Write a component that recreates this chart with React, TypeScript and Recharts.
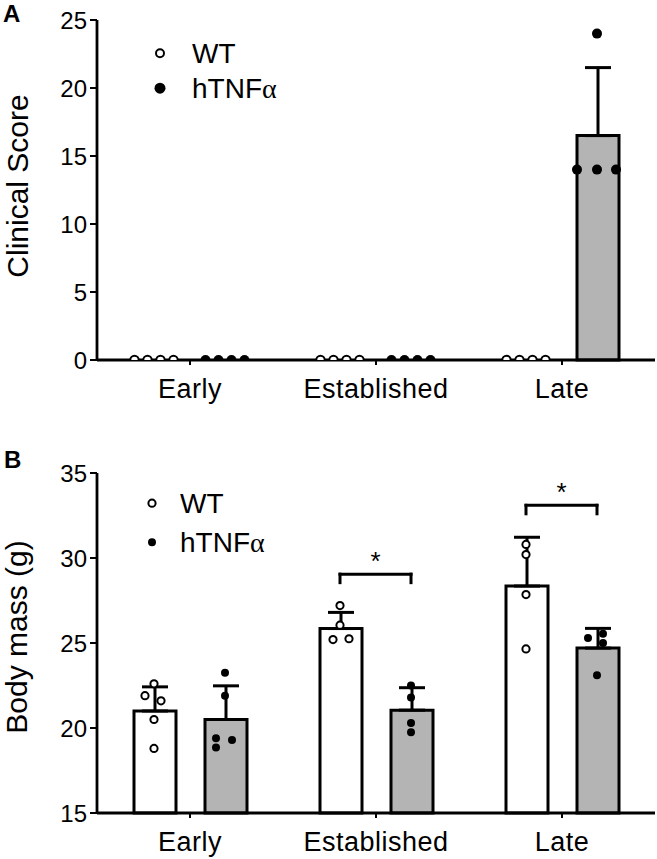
import React from 'react';
import {
  ComposedChart,
  Bar,
  XAxis,
  YAxis,
  Scatter,
  ErrorBar,
  ReferenceLine,
  ReferenceDot,
  Legend,
  Label,
} from 'recharts';

// ---------- data ----------
const categories = ['Early', 'Established', 'Late'];
const seriesNames = ['WT', 'hTNFα'];

// Panel A: clinical score
const scoreTicks = [0, 5, 10, 15, 20, 25];
const scoreWT = [0, 0, 0];
const scoreWTsd = [0, 0, 0];
const scoreTNF = [0, 0, 16.5];
const scoreTNFsd = [0, 0, 5.0];
const scoreWTpoints = [
  [0, 0, 0, 0],
  [0, 0, 0, 0],
  [0, 0, 0, 0],
];
const scoreTNFpoints = [
  [0, 0, 0, 0],
  [0, 0, 0, 0],
  [24, 14, 14, 14],
];
const scoreWTjitter = [
  [-19.5, -6.5, 6.5, 19.5],
  [-19.5, -6.5, 6.5, 19.5],
  [-19.5, -6.5, 6.5, 19.5],
];
const scoreTNFjitter = [
  [-19.5, -6.5, 6.5, 19.5],
  [-19.5, -6.5, 6.5, 19.5],
  [0, -20, 0, 19],
];

// Panel B: body mass
const massTicks = [15, 20, 25, 30, 35];
const massWT = [21.0, 25.85, 28.35];
const massWTsd = [1.42, 0.95, 2.87];
const massTNF = [20.5, 21.05, 24.7];
const massTNFsd = [1.98, 1.32, 1.16];
const massWTpoints = [
  [22.6, 21.9, 21.6, 20.5, 18.8],
  [27.2, 26.05, 25.2, 25.25],
  [30.8, 30.2, 27.85, 24.65],
];
const massTNFpoints = [
  [23.25, 21.9, 19.4, 19.3, 18.85],
  [22.5, 21.8, 20.3, 19.75],
  [25.3, 25.55, 25.0, 23.1],
];
const massWTjitter = [
  [0, -9, 7, 0, 0],
  [0, 0, -7, 9],
  [0, 0, 0, 0],
];
const massTNFjitter = [
  [0, 0, -9, 7, -9],
  [0, 0, 0, 0],
  [-9, 6, 6, 0],
];
const sigGroups = [1, 2];
const sigBracketY = [29.05, 33.1];
const sigLabel = '*';

// ---------- layout ----------
const FONT = '"Liberation Sans", Arial, Helvetica, sans-serif';
const W = 657;
const PLOT_LEFT = 97;
const PLOT_RIGHT = 655;
const PLOT_W = PLOT_RIGHT - PLOT_LEFT;
const BAND = PLOT_W / categories.length;
const BAR = 42;
const GAP = 29;
const OUTER = Math.floor((BAND - 2 * BAR - GAP) / 2);
const WT_OFF = (OUTER + BAR / 2) / BAND;
const TNF_OFF = (OUTER + BAR + GAP + BAR / 2) / BAND;
const GRAY = '#b4b4b4';

const buildRows = (wt: number[], wtsd: number[], tnf: number[], tnfsd: number[]) =>
  categories.map((c, i) => ({
    cat: c,
    wt: wt[i],
    wtErr: [0, wtsd[i]],
    tnf: tnf[i],
    tnfErr: [0, tnfsd[i]],
  }));

const buildPoints = (pts: number[][], jit: number[][], off: number) =>
  pts.flatMap((vals, i) => vals.map((v, j) => ({ x: i + off + jit[i][j] / BAND, y: v })));

const openCircle = (r: number) => (p: any) =>
  <circle cx={p.cx} cy={p.cy} r={r} fill="#fff" stroke="#000" strokeWidth={2} />;
const filledCircle = (r: number) => (p: any) =>
  <circle cx={p.cx} cy={p.cy} r={r} fill="#000" stroke="none" />;

const renderName = (name: string) => {
  const idx = name.indexOf('α');
  if (idx < 0) return name;
  return (
    <>
      {name.slice(0, idx)}
      <span style={{ fontFamily: '"Liberation Serif", "DejaVu Serif", serif' }}>α</span>
      {name.slice(idx + 1)}
    </>
  );
};

const makeLegend = (lineH: number, base: number, rOpen: number, rFill: number, textX: number) => () => (
  <div style={{ fontFamily: FONT, fontSize: 28, color: '#000' }}>
    {seriesNames.map((n, i) => (
      <div key={n} style={{ position: 'relative', height: lineH, lineHeight: `${lineH}px`, paddingLeft: textX, whiteSpace: 'nowrap' }}>
        <svg width={24} height={lineH} style={{ position: 'absolute', left: 0, top: 0 }}>
          {i === 0 ? (
            <circle cx={10} cy={base} r={rOpen} fill="#fff" stroke="#000" strokeWidth={2} />
          ) : (
            <circle cx={10} cy={base} r={rFill} fill="#000" />
          )}
        </svg>
        {renderName(n)}
      </div>
    ))}
  </div>
);

const yLabel = (text: string, bx: number, dy: number) => (props: any) => {
  const vb = props.viewBox || { x: 0, y: 0, width: 0, height: 0 };
  const cy = vb.y + vb.height / 2 + dy;
  return (
    <text
      x={bx}
      y={cy}
      transform={`rotate(-90 ${bx} ${cy})`}
      textAnchor="middle"
      fontSize={30}
      fontFamily={FONT}
      fill="#000"
    >
      {text}
    </text>
  );
};

const xTick = (p: any) => (
  <text x={p.x} y={p.y} dy="0.71em" textAnchor="middle" fontSize={27} fontFamily={FONT} fill="#000" letterSpacing={0.5}>
    {p.payload.value}
  </text>
);

const yTickStyle = { fontSize: 24, fontFamily: FONT, fill: '#000' };

const starShape = (p: any) => (
  <text x={p.cx} y={p.cy} textAnchor="middle" fontSize={26} fontFamily={FONT} fill="#000">
    {sigLabel}
  </text>
);

const PanelA = () => {
  const rows = buildRows(scoreWT, scoreWTsd, scoreTNF, scoreTNFsd);
  const wtPts = buildPoints(scoreWTpoints, scoreWTjitter, WT_OFF);
  const tnfPts = buildPoints(scoreTNFpoints, scoreTNFjitter, TNF_OFF);
  return (
    <ComposedChart
      width={W}
      height={420}
      data={rows}
      margin={{ top: 20, right: W - PLOT_RIGHT, left: 0, bottom: 10 }}
      barSize={BAR}
      barGap={GAP}
    >
      <XAxis
        dataKey="cat"
        height={50}
        axisLine={{ stroke: '#000', strokeWidth: 2.8 }}
        tickLine={{ stroke: '#000', strokeWidth: 2 }}
        tickSize={5}
        tickMargin={14}
        tick={xTick}
        interval={0}
      />
      <XAxis xAxisId="n" type="number" dataKey="x" domain={[0, 3]} hide allowDataOverflow />
      <YAxis
        width={PLOT_LEFT}
        domain={[0, 25]}
        ticks={scoreTicks}
        interval={0}
        axisLine={{ stroke: '#000', strokeWidth: 2.8 }}
        tickLine={{ stroke: '#000', strokeWidth: 2 }}
        tickSize={7}
        tickMargin={3}
        tick={yTickStyle}
      >
        <Label content={yLabel('Clinical Score', 28, -4)} />
      </YAxis>
      <YAxis yAxisId="s" dataKey="y" domain={[0, 25]} hide allowDataOverflow />
      <Bar dataKey="wt" fill="#fff" stroke="#000" strokeWidth={3} isAnimationActive={false}>
        <ErrorBar dataKey="wtErr" width={13} strokeWidth={3} stroke="#000" direction="y" />
      </Bar>
      <Bar dataKey="tnf" fill={GRAY} stroke="#000" strokeWidth={3} isAnimationActive={false}>
        <ErrorBar dataKey="tnfErr" width={13} strokeWidth={3} stroke="#000" direction="y" />
      </Bar>
      <Scatter data={wtPts} xAxisId="n" yAxisId="s" dataKey="y" shape={openCircle(4.2)} isAnimationActive={false} />
      <Scatter data={tnfPts} xAxisId="n" yAxisId="s" dataKey="y" shape={filledCircle(5)} isAnimationActive={false} />
      <Legend
        layout="vertical"
        align="center"
        verticalAlign="middle"
        content={makeLegend(35, 17.2, 4, 5.5, 42)}
        wrapperStyle={{ position: 'absolute', top: 36, left: 150, width: 'auto' }}
      />
    </ComposedChart>
  );
};

const PanelB = () => {
  const rows = buildRows(massWT, massWTsd, massTNF, massTNFsd);
  const wtPts = buildPoints(massWTpoints, massWTjitter, WT_OFF);
  const tnfPts = buildPoints(massTNFpoints, massTNFjitter, TNF_OFF);
  return (
    <ComposedChart
      width={W}
      height={429}
      data={rows}
      margin={{ top: 43, right: W - PLOT_RIGHT, left: 0, bottom: 6 }}
      barSize={BAR}
      barGap={GAP}
    >
      <XAxis
        dataKey="cat"
        height={40}
        axisLine={{ stroke: '#000', strokeWidth: 2.8 }}
        tickLine={{ stroke: '#000', strokeWidth: 2 }}
        tickSize={5}
        tickMargin={14}
        tick={xTick}
        interval={0}
      />
      <XAxis xAxisId="n" type="number" dataKey="x" domain={[0, 3]} hide allowDataOverflow />
      <YAxis
        width={PLOT_LEFT}
        domain={[15, 35]}
        ticks={massTicks}
        interval={0}
        axisLine={{ stroke: '#000', strokeWidth: 2.8 }}
        tickLine={{ stroke: '#000', strokeWidth: 2 }}
        tickSize={7}
        tickMargin={3}
        tick={yTickStyle}
      >
        <Label content={yLabel('Body mass (g)', 27, -6)} />
      </YAxis>
      <YAxis yAxisId="s" dataKey="y" domain={[15, 35]} hide allowDataOverflow />
      <Bar dataKey="wt" fill="#fff" stroke="#000" strokeWidth={3} isAnimationActive={false}>
        <ErrorBar dataKey="wtErr" width={13} strokeWidth={3} stroke="#000" direction="y" />
      </Bar>
      <Bar dataKey="tnf" fill={GRAY} stroke="#000" strokeWidth={3} isAnimationActive={false}>
        <ErrorBar dataKey="tnfErr" width={13} strokeWidth={3} stroke="#000" direction="y" />
      </Bar>
      <Scatter data={wtPts} xAxisId="n" yAxisId="s" dataKey="y" shape={openCircle(3.6)} isAnimationActive={false} />
      <Scatter data={tnfPts} xAxisId="n" yAxisId="s" dataKey="y" shape={filledCircle(4)} isAnimationActive={false} />
      {sigGroups.map((g, k) => {
        const x1 = g + WT_OFF;
        const x2 = g + TNF_OFF;
        const y = sigBracketY[k];
        const yb = y - 0.5;
        return (
          <React.Fragment key={g}>
            <ReferenceLine xAxisId="n" yAxisId="s" segment={[{ x: x1, y: yb }, { x: x1, y }]} stroke="#000" strokeWidth={3} strokeLinecap="square" ifOverflow="visible" />
            <ReferenceLine xAxisId="n" yAxisId="s" segment={[{ x: x1, y }, { x: x2, y }]} stroke="#000" strokeWidth={3} strokeLinecap="square" ifOverflow="visible" />
            <ReferenceLine xAxisId="n" yAxisId="s" segment={[{ x: x2, y: yb }, { x: x2, y }]} stroke="#000" strokeWidth={3} strokeLinecap="square" ifOverflow="visible" />
            <ReferenceDot xAxisId="n" yAxisId="s" x={(x1 + x2) / 2} y={y + 0.25} r={1} shape={starShape} ifOverflow="visible" />
          </React.Fragment>
        );
      })}
      <Legend
        layout="vertical"
        align="center"
        verticalAlign="middle"
        content={makeLegend(39, 19.2, 3.6, 4, 38)}
        wrapperStyle={{ position: 'absolute', top: 54, left: 142, width: 'auto' }}
      />
    </ComposedChart>
  );
};

const letterStyle: React.CSSProperties = {
  position: 'absolute',
  fontFamily: FONT,
  fontWeight: 'bold',
  fontSize: 24,
  lineHeight: '24px',
  color: '#000',
};

export default function App() {
  return (
    <div style={{ position: 'absolute', left: 0, top: 0, width: W, height: 859, background: '#fff' }}>
      <div style={{ position: 'absolute', left: 0, top: 0 }}>
        <PanelA />
      </div>
      <div style={{ position: 'absolute', left: 0, top: 430 }}>
        <PanelB />
      </div>
      <div style={{ ...letterStyle, left: 3, top: 2 }}>A</div>
      <div style={{ ...letterStyle, left: 4, top: 448 }}>B</div>
    </div>
  );
}
